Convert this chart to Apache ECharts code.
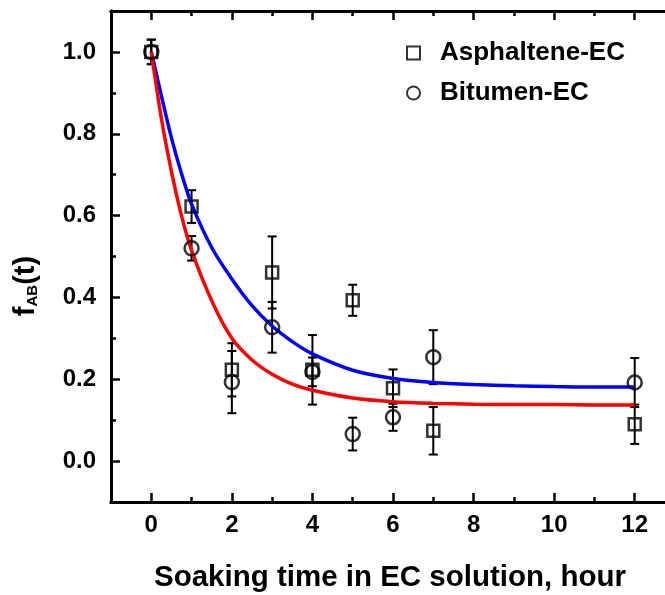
<!DOCTYPE html>
<html>
<head>
<meta charset="utf-8">
<script src="https://cdn.jsdelivr.net/npm/echarts@6/dist/echarts.min.js"></script>
<style>
  html, body { margin: 0; padding: 0; background: #fff; }
  #chart { width: 665px; height: 595px; }
</style>
</head>
<body>
<div id="chart"></div>
<script>
// Soaking times (hours) at which samples were measured
const times = [0, 1, 2, 3, 4, 5, 6, 7, 12];

// Measured fraction f_AB(t) and its standard deviation
const asphalteneVals = [1.00, 0.622, 0.223, 0.461, 0.223, 0.393, 0.178, 0.074, 0.090];
const asphalteneErr  = [0.03, 0.040, 0.065, 0.088, 0.085, 0.038, 0.046, 0.058, 0.048];
const bitumenVals    = [1.00, 0.520, 0.193, 0.327, 0.218, 0.066, 0.107, 0.254, 0.192];
const bitumenErr     = [0.03, 0.030, 0.076, 0.062, 0.035, 0.040, 0.033, 0.066, 0.060];

// Fitted decay curves, sampled along the time axis
const fitTimes     = [0, 0.25, 0.5, 0.75, 1, 1.5, 2, 2.5, 3, 3.5, 4, 5, 6, 7, 8, 9, 10, 11, 12];
const asphalteneFit = [1.0, 0.893, 0.79, 0.703, 0.628, 0.522, 0.445, 0.38, 0.33, 0.292, 0.262, 0.222, 0.202, 0.192, 0.187, 0.184, 0.182, 0.181, 0.181];
const bitumenFit    = [1.0, 0.838, 0.708, 0.60, 0.515, 0.392, 0.300, 0.247, 0.212, 0.188, 0.173, 0.154, 0.145, 0.141, 0.139, 0.138, 0.138, 0.137, 0.137];

// Axis tick positions
const xMajor = [0, 2, 4, 6, 8, 10, 12];
const xMinor = [-1, 1, 3, 5, 7, 9, 11, 13];
const yMajor = [0, 0.2, 0.4, 0.6, 0.8, 1.0];
const yMinor = [-0.1, 0.1, 0.3, 0.5, 0.7, 0.9, 1.1];

const FONT = '"Liberation Sans", Arial, sans-serif';

function pairs(xs, ys) { return xs.map((x, i) => [x, ys[i]]); }
function errData(xs, ys, es) { return xs.map((x, i) => [x, ys[i], es[i]]); }

function errorBarItem(params, api) {
  const x = api.value(0), y = api.value(1), e = api.value(2);
  const top = api.coord([x, y + e]);
  const bot = api.coord([x, y - e]);
  const half = 4.5;
  const style = { stroke: '#000', lineWidth: 2, fill: null };
  return {
    type: 'group',
    children: [
      { type: 'line', shape: { x1: top[0], y1: top[1], x2: bot[0], y2: bot[1] }, style },
      { type: 'line', shape: { x1: top[0] - half, y1: top[1], x2: top[0] + half, y2: top[1] }, style },
      { type: 'line', shape: { x1: bot[0] - half, y1: bot[1], x2: bot[0] + half, y2: bot[1] }, style }
    ]
  };
}

const axisLineStyle = { show: true, onZero: false, lineStyle: { color: '#000', width: 3 } };

function xAxisDef(position, ticks, len, labels) {
  return {
    type: 'value', position, min: -1, max: 13,
    axisLine: axisLineStyle,
    splitLine: { show: false },
    axisTick: { show: true, inside: true, length: len, customValues: ticks, lineStyle: { color: '#000', width: 2.5 } },
    axisLabel: labels ? { show: true, customValues: ticks, margin: 11, color: '#000', fontFamily: FONT, fontWeight: 'bold', fontSize: 24 } : { show: false }
  };
}
function yAxisDef(ticks, len, labels) {
  return {
    type: 'value', position: 'left', min: -0.1, max: 1.1,
    axisLine: axisLineStyle,
    splitLine: { show: false },
    axisTick: { show: true, inside: true, length: len, customValues: ticks, lineStyle: { color: '#000', width: 2.5 } },
    axisLabel: labels ? {
      show: true, customValues: ticks, margin: 15, color: '#000', fontFamily: FONT, fontWeight: 'bold', fontSize: 24,
      formatter: v => v.toFixed(1)
    } : { show: false }
  };
}

const xMain = xAxisDef('bottom', xMajor, 9, true);
xMain.name = 'Soaking time in EC solution, hour';
xMain.nameLocation = 'middle';
xMain.nameGap = 61;
xMain.nameTextStyle = { color: '#000', fontFamily: FONT, fontWeight: 'bold', fontSize: 29.5, padding: [0, 6, 0, 0] };

const chart = echarts.init(document.getElementById('chart'), null, { renderer: 'canvas' });
chart.setOption({
  animation: false,
  backgroundColor: '#fff',
  grid: { left: 111, top: 11, right: -10, bottom: 93, containLabel: false, outerBoundsMode: 'none' },
  xAxis: [
    xMain,
    xAxisDef('bottom', xMinor, 5, false),
    xAxisDef('top', xMajor, 9, false),
    xAxisDef('top', xMinor, 5, false)
  ],
  yAxis: [
    yAxisDef(yMajor, 9, true),
    yAxisDef(yMinor, 5, false)
  ],
  graphic: [{
    // y-axis title f_AB(t), rotated
    type: 'text',
    x: 26, y: 286,
    rotation: Math.PI / 2,
    style: {
      text: '{f|f}{s|AB}{f|(t)}',
      align: 'center',
      verticalAlign: 'middle',
      rich: {
        f: { fontFamily: FONT, fontWeight: 'bold', fontSize: 29, fill: '#000' },
        s: { fontFamily: FONT, fontWeight: 'bold', fontSize: 15, fill: '#000', verticalAlign: 'bottom', padding: [12, 0, 0, 0] }
      }
    }
  }],
  legend: {
    orient: 'vertical',
    left: 401, top: 33,
    itemWidth: 13, itemHeight: 13, itemGap: 10,
    textStyle: { color: '#000', fontFamily: FONT, fontWeight: 'bold', fontSize: 26, lineHeight: 30, padding: [0, 0, 0, 15] },
    itemStyle: { color: 'transparent', borderColor: '#000', borderWidth: 2 },
    data: [
      { name: 'Asphaltene-EC', icon: 'rect' },
      { name: 'Bitumen-EC', icon: 'circle' }
    ]
  },
  series: [
    {
      name: 'Asphaltene fit', type: 'line', smooth: 0.3, showSymbol: false,
      data: pairs(fitTimes, asphalteneFit),
      lineStyle: { color: '#0000ff', width: 3.5 }, itemStyle: { color: '#0000ff' }
    },
    {
      name: 'Bitumen fit', type: 'line', smooth: 0.3, showSymbol: false,
      data: pairs(fitTimes, bitumenFit),
      lineStyle: { color: '#ff0000', width: 3.5 }, itemStyle: { color: '#ff0000' }
    },
    { name: 'Asphaltene err', type: 'custom', renderItem: errorBarItem, data: errData(times, asphalteneVals, asphalteneErr), z: 3 },
    { name: 'Bitumen err', type: 'custom', renderItem: errorBarItem, data: errData(times, bitumenVals, bitumenErr), z: 3 },
    {
      name: 'Asphaltene-EC', type: 'scatter', symbol: 'rect', symbolSize: 12, z: 4,
      data: pairs(times, asphalteneVals),
      itemStyle: { color: 'transparent', borderColor: '#000', borderWidth: 2.5 }
    },
    {
      name: 'Bitumen-EC', type: 'scatter', symbol: 'circle', symbolSize: 14, z: 4,
      data: pairs(times, bitumenVals),
      itemStyle: { color: 'transparent', borderColor: '#000', borderWidth: 2.5 }
    }
  ]
});
</script>
</body>
</html>
